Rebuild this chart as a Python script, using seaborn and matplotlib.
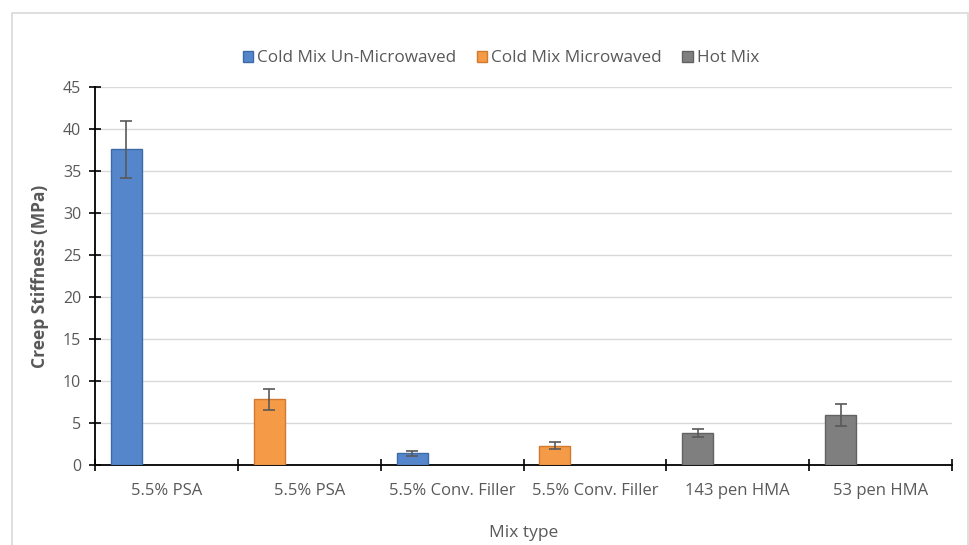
import numpy as np
import pandas as pd
import matplotlib
matplotlib.use("Agg")
import matplotlib.pyplot as plt
import seaborn as sns
from matplotlib.patches import Rectangle

# data
categories = ["5.5% PSA", "5.5% PSA ", "5.5% Conv. Filler", "5.5% Conv. Filler ",
              "143 pen HMA", "53 pen HMA"]
tick_labels = ["5.5% PSA", "5.5% PSA", "5.5% Conv. Filler", "5.5% Conv. Filler",
               "143 pen HMA", "53 pen HMA"]
series = ["Cold Mix Un-Microwaved", "Cold Mix Microwaved",
          "Cold Mix Un-Microwaved", "Cold Mix Microwaved", "Hot Mix", "Hot Mix"]
stiffness = [37.6, 7.8, 1.4, 2.3, 3.8, 6.0]
err = [3.4, 1.2, 0.3, 0.4, 0.5, 1.3]

series_order = ["Cold Mix Un-Microwaved", "Cold Mix Microwaved", "Hot Mix"]
colors = {"Cold Mix Un-Microwaved": "#5586CB",
          "Cold Mix Microwaved": "#F59B48",
          "Hot Mix": "#7F7F7F"}
edges = {"Cold Mix Un-Microwaved": "#3F6AA8",
         "Cold Mix Microwaved": "#D07A30",
         "Hot Mix": "#626262"}

df = pd.DataFrame({"cat": categories, "series": series, "val": stiffness})

sns.set_style("white")
plt.rcParams["font.family"] = ["Open Sans", "DejaVu Sans"]
txt = "#595959"

fig = plt.figure(figsize=(9.69, 5.45), dpi=100)
ax = fig.add_axes([0.098, 0.1468, 0.8845, 0.6936])

bar_w = 0.217
shift = -0.28
sns.barplot(data=df, x="cat", y="val", hue="series", hue_order=series_order,
            palette=colors, saturation=1, dodge=False, width=bar_w,
            errorbar=None, legend=False, ax=ax, zorder=3)

# bars sit at the left side of each slot like the original
for p in ax.patches:
    p.set_x(p.get_x() + shift)
    fc = p.get_facecolor()
    for s in series_order:
        if np.allclose(fc[:3], matplotlib.colors.to_rgb(colors[s]), atol=0.01):
            p.set_edgecolor(edges[s])
    p.set_linewidth(1.0)

xs = np.arange(len(categories)) + shift
ax.errorbar(xs, stiffness, yerr=err, fmt="none", ecolor="#595959",
            elinewidth=1.2, capsize=4, capthick=1.2, zorder=4)

ax.set_xlim(-0.5, len(categories) - 0.5)
ax.set_ylim(0, 45)
ax.set_yticks(np.arange(0, 46, 5))
ax.yaxis.grid(True, color="#D9D9D9", linewidth=1.0, zorder=0)
ax.set_axisbelow(True)

ax.set_xticks(np.arange(-0.5, len(categories), 1.0), minor=False)
ax.set_xticklabels([])
ax.set_xticks(np.arange(len(categories)), minor=True)
ax.set_xticklabels(tick_labels, minor=True)
ax.tick_params(axis="x", which="major", bottom=True, direction="inout",
               length=9, width=1.2, color="black")
ax.tick_params(axis="x", which="minor", bottom=True, length=0, pad=13,
               labelsize=12, labelcolor=txt)
ax.tick_params(axis="y", left=True, direction="inout", length=8, width=1.2,
               color="black", labelsize=11.5, labelcolor=txt, pad=6)

for side in ["top", "right"]:
    ax.spines[side].set_visible(False)
for side in ["left", "bottom"]:
    ax.spines[side].set_color("black")
    ax.spines[side].set_linewidth(1.3)

ax.set_ylabel("Creep Stiffness (MPa)", fontsize=12.5, fontweight="bold",
              color=txt, labelpad=10)
ax.set_xlabel("Mix type", fontsize=12.5, color=txt)
ax.xaxis.set_label_coords(0.5, -0.18)
ax.xaxis.label.set_va("center")

handles = [Rectangle((0, 0), 1, 1, facecolor=colors[s], edgecolor=edges[s])
           for s in series_order]
fig.legend(handles, series_order, loc="center", bbox_to_anchor=(0.517, 0.893),
           ncol=3, frameon=False, fontsize=12.3, labelcolor=txt,
           handlelength=0.6, handleheight=0.6, handletextpad=0.25,
           columnspacing=1.2)

# chart area border
fig.patches.append(Rectangle((12 / 969, -0.01), 956 / 969, 1.01 - 13 / 545,
                             transform=fig.transFigure, fill=False,
                             edgecolor="#D9D9D9", linewidth=1.2))

fig.savefig("out.png", dpi=100)
